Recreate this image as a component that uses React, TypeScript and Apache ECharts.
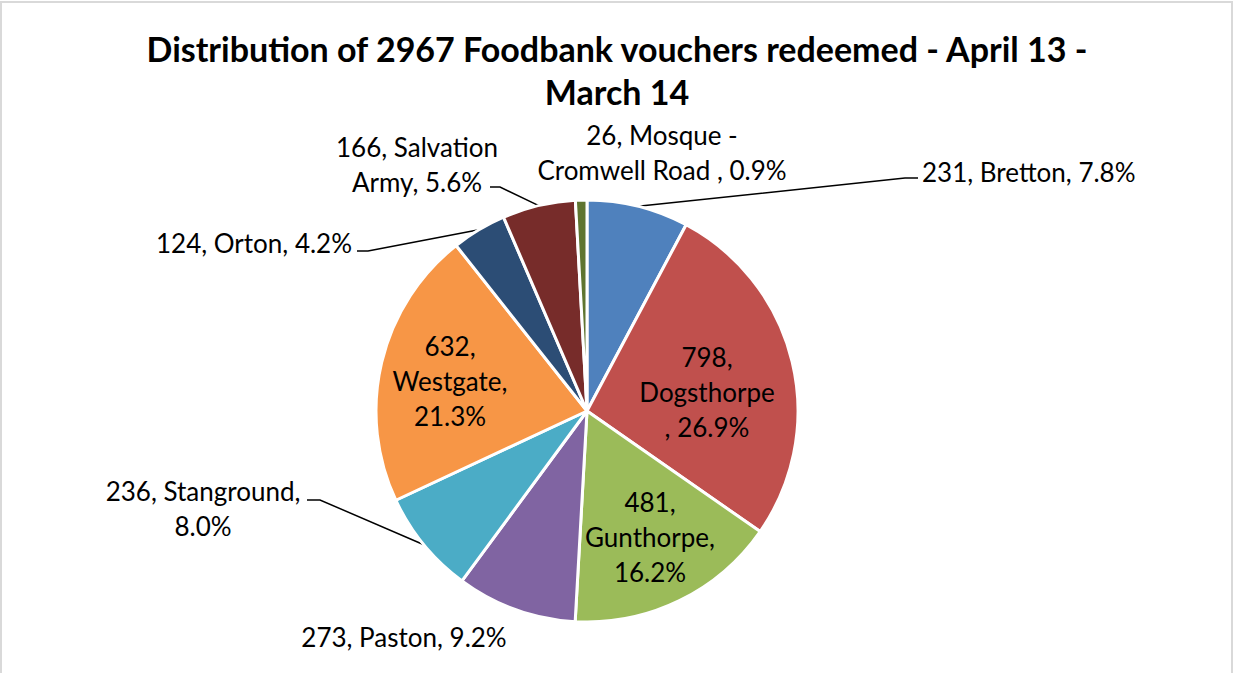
import React, { useEffect, useRef } from "react";
import * as echarts from "echarts";

// ---- data ----
const categories = [
  "Bretton",
  "Dogsthorpe",
  "Gunthorpe",
  "Paston",
  "Stanground",
  "Westgate",
  "Orton",
  "Salvation Army",
  "Mosque - Cromwell Road ",
];
const vouchers = [231, 798, 481, 273, 236, 632, 124, 166, 26];
const sliceColors = [
  "#4F81BD",
  "#C0504D",
  "#9BBB59",
  "#8064A2",
  "#4BACC6",
  "#F79646",
  "#2C4D75",
  "#772C2A",
  "#5F7530",
];
// label text templates ({v} value, {n} name, {p} percent)
const labelTemplates = [
  "{v}, {n}, {p}%",
  "{v},\n{n}\n, {p}%",
  "{v},\n{n},\n{p}%",
  "{v}, {n}, {p}%",
  "{v}, {n},\n{p}%",
  "{v},\n{n},\n{p}%",
  "{v}, {n}, {p}%",
  "{v}, {n}, {p}%",
  "{v}, {n}, {p}%",
];
const nameWrapAfterWord = [0, 0, 0, 0, 0, 0, 0, 1, 2];
const titleLines = [
  "Distribution of 2967 Foodbank vouchers redeemed - April 13 -",
  "March 14",
];

// ---- layout ----
const PIE_CX = 587;
const PIE_CY = 411;
const PIE_R = 211;
type Placement = {
  x: number;
  y: number;
  align: "left" | "center" | "right";
  inside?: boolean;
  line?: number[][];
};
const labelPlacement: Placement[] = [
  { x: 922, y: 172, align: "left", line: [[905, 178], [918, 178]] },
  { x: 707, y: 392, align: "center", inside: true },
  { x: 650, y: 537, align: "center", inside: true },
  { x: 404, y: 637, align: "center" },
  { x: 203, y: 508, align: "center", line: [[320, 500], [307, 500]] },
  { x: 450, y: 381, align: "center", inside: true },
  { x: 254, y: 243, align: "center", line: [[368, 251], [357, 251]] },
  { x: 417, y: 164, align: "center", line: [[500, 187], [490, 187]] },
  { x: 662, y: 152, align: "center" },
];

const FONT = "Lato, 'Open Sans', 'Noto Sans', sans-serif";

function wrapName(name: string, after: number): string {
  if (!after) return name;
  const words = name.split(" ");
  return words.slice(0, after).join(" ") + "\n" + words.slice(after).join(" ");
}

export default function App() {
  const ref = useRef<HTMLDivElement>(null);
  useEffect(() => {
    if (!ref.current) return;
    const chart = echarts.init(ref.current, undefined, { renderer: "svg" });
    const total = vouchers.reduce((a, b) => a + b, 0);
    const midAngles: number[] = [];
    let acc = 0;
    vouchers.forEach((v) => {
      midAngles.push(((acc + v / 2) / total) * Math.PI * 2);
      acc += v;
    });
    const anchor = (i: number) => [
      PIE_CX + PIE_R * Math.sin(midAngles[i]),
      PIE_CY - PIE_R * Math.cos(midAngles[i]),
    ];
    const data = categories.map((name, i) => {
      const p = labelPlacement[i];
      return {
        name,
        value: vouchers[i],
        itemStyle: { color: sliceColors[i] },
        label: { position: p.inside ? "inside" : "outside" },
        labelLine: { show: !!p.line },
      };
    });
    chart.setOption({
      animation: false,
      backgroundColor: "#ffffff",
      title: {
        text: titleLines.join("\n"),
        left: "center",
        top: 22,
        textStyle: {
          fontFamily: FONT,
          fontWeight: "bold",
          fontSize: 34,
          lineHeight: 43,
          color: "#000",
        },
      },
      graphic: [
        {
          type: "rect",
          silent: true,
          z: -1,
          shape: { x: 1, y: 2, width: 1231, height: 700 },
          style: { fill: "none", stroke: "#d9d9d9", lineWidth: 2 },
        },
      ],
      series: [
        {
          type: "pie",
          center: [PIE_CX, PIE_CY],
          radius: PIE_R,
          startAngle: 90,
          clockwise: true,
          avoidLabelOverlap: false,
          itemStyle: { borderColor: "#ffffff", borderWidth: 3 },
          emphasis: { disabled: true },
          label: {
            show: true,
            color: "#000",
            fontFamily: FONT,
            fontSize: 26,
            lineHeight: 35,
            overflow: "none",
            formatter: (params: any) => {
              const i = params.dataIndex;
              const pct = ((vouchers[i] / total) * 100).toFixed(1);
              return labelTemplates[i]
                .replace("{v}", String(vouchers[i]))
                .replace("{n}", wrapName(categories[i], nameWrapAfterWord[i]))
                .replace("{p}", pct);
            },
          },
          labelLine: {
            show: true,
            lineStyle: { color: "#000", width: 1.5 },
          },
          labelLayout: (params: any) => {
            const i = params.dataIndex;
            const p = labelPlacement[i];
            const res: any = {
              x: p.x,
              y: p.y,
              align: p.align,
              verticalAlign: "middle",
            };
            if (p.line) {
              res.labelLinePoints = [anchor(i), p.line[0], p.line[1]];
            }
            return res;
          },
          data,
        },
      ],
    });
    return () => chart.dispose();
  }, []);
  return (
    <div
      ref={ref}
      style={{ position: "fixed", left: 0, top: 0, width: 1234, height: 673 }}
    />
  );
}
